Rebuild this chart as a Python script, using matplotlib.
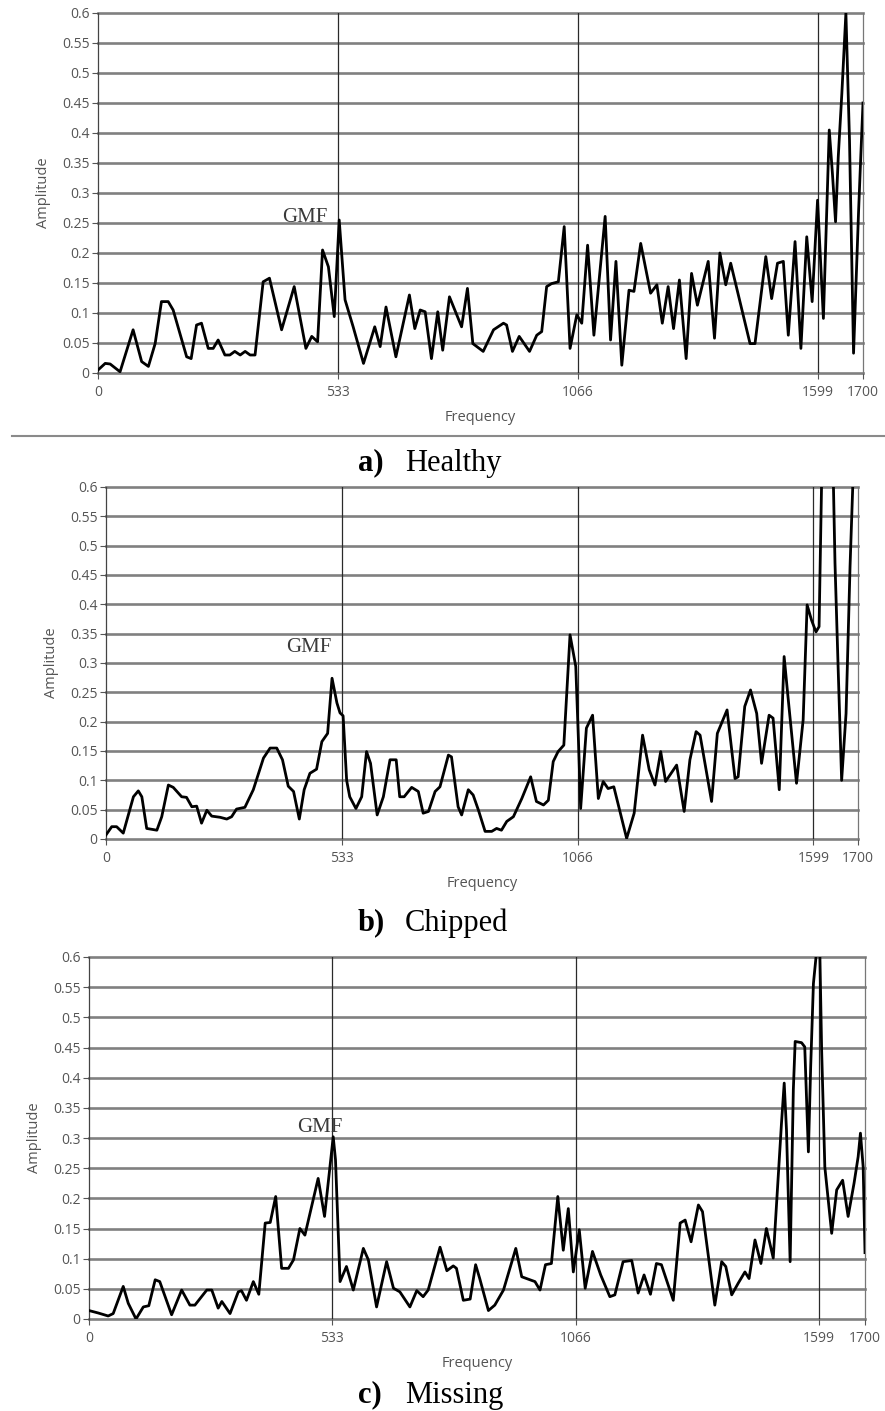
import matplotlib
matplotlib.use("Agg")
import matplotlib.pyplot as plt

# frequency spectra (amplitude clipped at 0.6 in the plot)
healthy_f = [0, 16, 27, 49, 78, 97, 112, 127, 141, 156, 167, 197, 207, 219, 230, 245, 256, 267,
             282, 293, 304, 316, 327, 338, 349, 367, 381, 408, 436, 462, 475, 488, 499, 512, 525,
             536, 549, 567, 590, 615, 627, 640, 662, 692, 704, 716, 727, 741, 755, 766, 781, 808,
             821, 833, 856, 879, 901, 908, 921, 936, 959, 975, 986, 997, 1008, 1023, 1036, 1049,
             1064, 1075, 1088, 1102, 1127, 1139, 1151, 1164, 1180, 1191, 1206, 1228, 1242, 1254,
             1267, 1279, 1292, 1307, 1319, 1332, 1356, 1370, 1382, 1395, 1406, 1449, 1460, 1484,
             1497, 1510, 1523, 1534, 1549, 1562, 1575, 1587, 1599, 1612, 1625, 1632, 1639, 1645,
             1653, 1662, 1670, 1679, 1690, 1695, 1700]
healthy_a = [0.005, 0.016, 0.015, 0.002, 0.072, 0.019, 0.011, 0.049, 0.119, 0.119, 0.105, 0.027,
             0.024, 0.080, 0.083, 0.041, 0.041, 0.055, 0.030, 0.030, 0.036, 0.030, 0.036, 0.030,
             0.030, 0.152, 0.158, 0.072, 0.144, 0.041, 0.061, 0.052, 0.205, 0.177, 0.094, 0.255,
             0.122, 0.077, 0.016, 0.077, 0.044, 0.110, 0.027, 0.130, 0.074, 0.105, 0.102, 0.024,
             0.102, 0.038, 0.127, 0.077, 0.141, 0.049, 0.036, 0.072, 0.083, 0.080, 0.036, 0.061,
             0.036, 0.063, 0.069, 0.144, 0.149, 0.152, 0.244, 0.041, 0.097, 0.083, 0.213, 0.063,
             0.261, 0.055, 0.186, 0.013, 0.138, 0.136, 0.216, 0.133, 0.147, 0.083, 0.144, 0.074,
             0.155, 0.024, 0.166, 0.113, 0.186, 0.058, 0.200, 0.147, 0.183, 0.049, 0.049, 0.194,
             0.124, 0.183, 0.186, 0.063, 0.219, 0.041, 0.227, 0.119, 0.288, 0.091, 0.405, 0.333,
             0.252, 0.360, 0.466, 0.600, 0.388, 0.033, 0.266, 0.360, 0.450]

chipped_f = [0, 13, 24, 39, 62, 73, 81, 92, 115, 126, 141, 152, 171, 182, 194, 205, 216, 228, 239,
             258, 273, 284, 295, 314, 333, 356, 371, 386, 399, 412, 424, 437, 448, 461, 476, 488,
             501, 511, 522, 529, 536, 544, 551, 565, 578, 589, 598, 613, 627, 642, 656, 664, 674,
             691, 706, 717, 729, 744, 755, 774, 781, 796, 804, 819, 830, 842, 857, 872, 883, 894,
             906, 921, 940, 960, 973, 989, 1000, 1011, 1022, 1035, 1049, 1062, 1068, 1073, 1086,
             1100, 1113, 1124, 1135, 1148, 1177, 1194, 1213, 1228, 1241, 1254, 1265, 1290, 1307,
             1320, 1334, 1343, 1369, 1382, 1404, 1422, 1429, 1444, 1457, 1471, 1482, 1499, 1508,
             1522, 1533, 1541, 1561, 1576, 1585, 1595, 1605, 1612, 1618, 1630, 1644, 1648, 1655,
             1663, 1673, 1682, 1689, 1700]
chipped_a = [0.007, 0.021, 0.021, 0.010, 0.072, 0.082, 0.072, 0.018, 0.015, 0.038, 0.092, 0.088,
             0.072, 0.071, 0.055, 0.056, 0.027, 0.049, 0.039, 0.037, 0.034, 0.038, 0.051, 0.054,
             0.084, 0.138, 0.155, 0.155, 0.135, 0.090, 0.081, 0.034, 0.084, 0.112, 0.119, 0.166,
             0.180, 0.274, 0.232, 0.215, 0.210, 0.100, 0.072, 0.052, 0.072, 0.149, 0.129, 0.041,
             0.072, 0.135, 0.135, 0.072, 0.072, 0.088, 0.081, 0.044, 0.047, 0.081, 0.089, 0.143,
             0.140, 0.055, 0.041, 0.084, 0.075, 0.049, 0.013, 0.013, 0.018, 0.015, 0.030, 0.038,
             0.069, 0.106, 0.064, 0.058, 0.066, 0.132, 0.149, 0.160, 0.348, 0.294, 0.169, 0.052,
             0.189, 0.211, 0.069, 0.098, 0.086, 0.089, 0.001, 0.044, 0.177, 0.118, 0.092, 0.149,
             0.098, 0.126, 0.047, 0.135, 0.183, 0.177, 0.064, 0.180, 0.220, 0.103, 0.106, 0.226,
             0.254, 0.214, 0.129, 0.211, 0.206, 0.084, 0.311, 0.248, 0.095, 0.203, 0.399, 0.373,
             0.353, 0.362, 0.620, 0.750, 0.620, 0.470, 0.294, 0.100, 0.214, 0.464, 0.620, 0.700]

missing_f = [0, 20, 42, 53, 75, 86, 103, 119, 131, 145, 155, 181, 203, 221, 232, 258, 269, 283,
             291, 309, 327, 334, 345, 360, 372, 386, 397, 409, 422, 437, 448, 462, 473, 502, 516,
             535, 540, 550, 564, 579, 601, 612, 630, 652, 667, 681, 703, 718, 732, 743, 769, 784,
             798, 805, 820, 835, 847, 856, 875, 889, 908, 935, 948, 966, 977, 988, 1000, 1013,
             1027, 1039, 1050, 1061, 1074, 1087, 1103, 1121, 1141, 1152, 1170, 1189, 1203, 1216,
             1230, 1243, 1254, 1280, 1295, 1306, 1319, 1335, 1344, 1371, 1386, 1395, 1408, 1422,
             1437, 1446, 1459, 1472, 1484, 1499, 1509, 1517, 1523, 1528, 1536, 1543, 1547, 1561,
             1568, 1576, 1581, 1587, 1594, 1601, 1605, 1612, 1627, 1638, 1651, 1663, 1676, 1685,
             1690, 1696, 1700]
missing_a = [0.014, 0.010, 0.005, 0.009, 0.054, 0.026, 0.000, 0.020, 0.022, 0.065, 0.062, 0.007,
             0.048, 0.023, 0.023, 0.048, 0.048, 0.018, 0.029, 0.009, 0.045, 0.047, 0.031, 0.062,
             0.041, 0.159, 0.160, 0.203, 0.084, 0.084, 0.098, 0.150, 0.139, 0.233, 0.170, 0.302,
             0.264, 0.062, 0.087, 0.048, 0.117, 0.098, 0.020, 0.095, 0.051, 0.045, 0.020, 0.047,
             0.037, 0.048, 0.119, 0.080, 0.088, 0.084, 0.031, 0.033, 0.090, 0.067, 0.014, 0.023,
             0.048, 0.117, 0.070, 0.065, 0.062, 0.048, 0.090, 0.092, 0.203, 0.114, 0.183, 0.078,
             0.148, 0.051, 0.112, 0.073, 0.037, 0.040, 0.095, 0.097, 0.043, 0.073, 0.041, 0.092,
             0.090, 0.031, 0.159, 0.164, 0.128, 0.189, 0.178, 0.023, 0.095, 0.087, 0.040, 0.059,
             0.078, 0.067, 0.131, 0.092, 0.150, 0.101, 0.225, 0.324, 0.391, 0.313, 0.095, 0.380,
             0.460, 0.458, 0.451, 0.277, 0.418, 0.556, 0.610, 0.610, 0.446, 0.252, 0.142, 0.214,
             0.230, 0.170, 0.225, 0.269, 0.308, 0.252, 0.110]

freq_ticks = [0, 533, 1066, 1599, 1700]
harmonic_lines = [533, 1066, 1599]
amp_ticks = [0, 0.05, 0.1, 0.15, 0.2, 0.25, 0.3, 0.35, 0.4, 0.45, 0.5, 0.55, 0.6]
amp_labels = ["0", "0.05", "0.1", "0.15", "0.2", "0.25", "0.3", "0.35", "0.4", "0.45",
              "0.5", "0.55", "0.6"]

W, H = 885, 1411
fig = plt.figure(figsize=(W / 100, H / 100), dpi=100)


def px_box(left, right, top, bottom):
    return [left / W, 1 - bottom / H, (right - left) / W, (bottom - top) / H]


def draw_panel(box, freqs, amps, gmf_xy):
    ax = fig.add_axes(box)
    ax.set_xlim(0, 1700)
    ax.set_ylim(0, 0.6)
    for v in amp_ticks:
        ax.axhline(v, color="#808080", lw=1.9, clip_on=False, zorder=1)
    for v in harmonic_lines:
        ax.axvline(v, color="#2a2a2a", lw=0.9, zorder=1)
    ax.plot(freqs, amps, color="black", lw=2.0, zorder=3)

    for s in ["top", "bottom"]:
        ax.spines[s].set_visible(False)
    ax.spines["left"].set_color("#444444")
    ax.spines["left"].set_linewidth(0.9)
    ax.spines["right"].set_color("#777777")
    ax.spines["right"].set_linewidth(0.9)

    ax.set_xticks(freq_ticks)
    ax.set_xticklabels([str(t) for t in freq_ticks])
    ax.set_yticks(amp_ticks)
    ax.set_yticklabels(amp_labels)
    ax.tick_params(axis="both", labelsize=10, colors="#555555", length=4, width=0.8,
                   labelfontfamily="Open Sans")
    ax.tick_params(axis="x", pad=5)
    ax.tick_params(axis="y", pad=2)
    ax.set_xlabel("Frequency", fontsize=10.5, color="#555555", family="Open Sans", labelpad=7)
    ax.set_ylabel("Amplitude", fontsize=10.5, color="#555555", family="Open Sans", labelpad=8)
    ax.text(gmf_xy[0], gmf_xy[1], "GMF", fontsize=15, family="Liberation Serif",
            color="#3a3a3a", ha="center", va="center", zorder=4)
    return ax


draw_panel(px_box(98, 863, 13, 373), healthy_f, healthy_a, (460, 0.26))
draw_panel(px_box(106, 858, 487, 839), chipped_f, chipped_a, (458, 0.327))
draw_panel(px_box(89, 865, 957, 1319), missing_f, missing_a, (505, 0.318))

# separator under the first panel
fig.add_artist(plt.Line2D([12 / W, 1.0], [1 - 436 / H, 1 - 436 / H], color="#8a8a8a", lw=1.5))

captions = [("a)", "Healthy", 463), ("b)", "Chipped", 923), ("c)", "Missing", 1395)]
for tag, name, ypx in captions:
    fig.text(358 / W, 1 - ypx / H, tag, fontsize=22, fontweight="bold",
             family="Liberation Serif", ha="left", va="center")
    fig.text(405 / W, 1 - ypx / H, name, fontsize=22, family="Liberation Serif",
             ha="left", va="center")

fig.savefig("out.png", dpi=100)
